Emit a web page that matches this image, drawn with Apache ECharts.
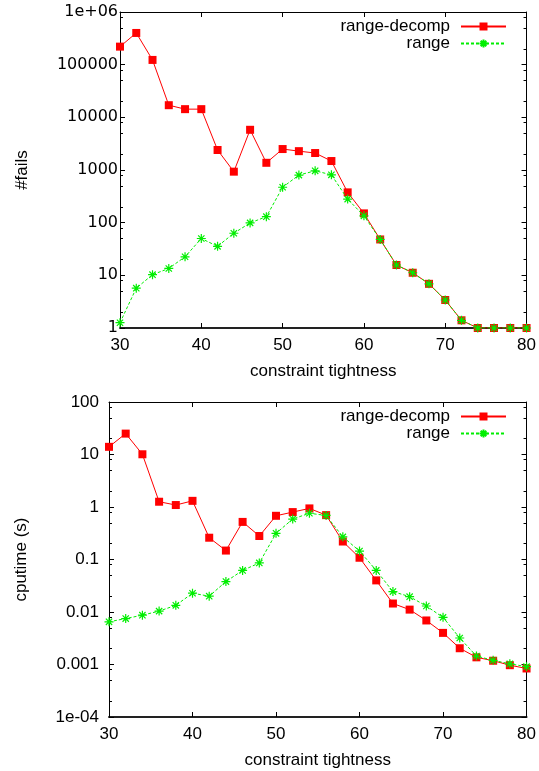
<!DOCTYPE html>
<html>
<head>
<meta charset="utf-8">
<script src="https://cdn.jsdelivr.net/npm/echarts@6/dist/echarts.min.js"></script>
<style>
  html, body { margin: 0; padding: 0; background: #fff; }
  #chart { width: 539px; height: 771px; }
</style>
</head>
<body>
<div id="chart"></div>
<script>
var xs = [30, 32, 34, 36, 38, 40, 42, 44, 46, 48, 50, 52, 54, 56, 58, 60, 62, 64, 66, 68, 70, 72, 74, 76, 78, 80];

var failsDecomp = [220000, 400000, 123000, 17000, 14300, 14300, 2400, 930, 5800, 1370, 2500, 2280, 2100, 1480, 376, 150, 48, 15.7, 11.2, 6.9, 3.4, 1.4, 1, 1, 1, 1];
var failsRange = [1.26, 5.7, 10.3, 13.5, 22.5, 50, 35.5, 63, 99, 130, 470, 800, 965, 810, 280, 135, 48, 15.7, 11.2, 6.9, 3.4, 1.4, 1, 1, 1, 1];

var timeDecomp = [14, 25, 10.1, 1.26, 1.09, 1.31, 0.26, 0.148, 0.52, 0.28, 0.68, 0.80, 0.94, 0.70, 0.22, 0.108, 0.040, 0.0145, 0.0111, 0.0069, 0.0040, 0.00204, 0.00137, 0.00118, 0.00097, 0.00084];
var timeRange = [0.0065, 0.0075, 0.0087, 0.0104, 0.0134, 0.0228, 0.020, 0.038, 0.062, 0.086, 0.315, 0.59, 0.76, 0.69, 0.27, 0.145, 0.062, 0.0245, 0.0196, 0.013, 0.0079, 0.0032, 0.00145, 0.0012, 0.00103, 0.00091];

var failTicks = [1, 10, 100, 1000, 10000, 100000, 1000000];
var failTickLabels = ['1', '10', '100', '1000', '10000', '100000', '1e+06'];
var timeTicks = [0.0001, 0.001, 0.01, 0.1, 1, 10, 100];
var timeTickLabels = ['1e-04', '0.001', '0.01', '0.1', '1', '10', '100'];
var minorSteps = [2, 5, 8];

var FONT = "'Liberation Sans', Arial, sans-serif";
var RED = '#ff0000';
var GREEN = '#00ee00';
var STAR = 'path://M0,5L10,5M5,0L5,10M1.5,1.5L8.5,8.5M8.5,1.5L1.5,8.5';

function minorOf(ticks) {
  var out = [];
  for (var i = 0; i < ticks.length - 1; i++) {
    minorSteps.forEach(function (m) { out.push(m * ticks[i]); });
  }
  return out;
}

function pairs(vals) {
  return xs.map(function (x, i) { return [x, vals[i]]; });
}

// x axes for one grid: bottom with labels, top only ticks
function xAxes(gi, name) {
  var base = {
    gridIndex: gi, type: 'value', min: 30, max: 80, interval: 10,
    splitLine: {show: false},
    axisTick: {inside: true, length: 5, lineStyle: {color: '#000'}}
  };
  return [
    Object.assign({}, base, {
      position: 'bottom',
      name: name, nameLocation: 'middle', nameGap: 35,
      nameTextStyle: {fontFamily: FONT, fontSize: 17, color: '#000'},
      axisLine: {lineStyle: {color: '#222', width: 2}},
      axisLabel: {margin: 9, fontFamily: FONT, fontSize: 17, color: '#000'}
    }),
    Object.assign({}, base, {
      position: 'top',
      axisLine: {lineStyle: {color: '#000', width: 1}},
      axisLabel: {show: false}
    })
  ];
}

// y axes for one grid: left/right majors and minors
function yAxes(gi, min, max, ticks, labels, offsetIdx, name, nameGap, labelStyle) {
  var minor = minorOf(ticks);
  var base = {gridIndex: gi, type: 'log', logBase: 10, min: min, max: max, splitLine: {show: false}};
  var fmt = function (v) { return labels[Math.round(Math.log10(v)) + offsetIdx]; };
  return [
    Object.assign({}, base, {
      position: 'left',
      name: name, nameLocation: 'middle', nameGap: nameGap,
      nameTextStyle: {fontFamily: FONT, fontSize: 17, color: '#000'},
      axisLine: {show: true, lineStyle: {color: '#000', width: 1}},
      axisTick: {inside: true, length: 5, customValues: ticks, lineStyle: {color: '#000'}},
      axisLabel: Object.assign({customValues: ticks, formatter: fmt, color: '#000'}, labelStyle)
    }),
    Object.assign({}, base, {
      position: 'left',
      axisLine: {show: false},
      axisTick: {inside: true, length: 3, customValues: minor, lineStyle: {color: '#000'}},
      axisLabel: {show: false}
    }),
    Object.assign({}, base, {
      position: 'right',
      axisLine: {show: true, lineStyle: {color: '#000', width: 1}},
      axisTick: {inside: true, length: 5, customValues: ticks, lineStyle: {color: '#000'}},
      axisLabel: {show: false}
    }),
    Object.assign({}, base, {
      position: 'right',
      axisLine: {show: false},
      axisTick: {inside: true, length: 3, customValues: minor, lineStyle: {color: '#000'}},
      axisLabel: {show: false}
    })
  ];
}

function decompSeries(xi, yi, vals) {
  return {
    name: 'range-decomp', type: 'line', xAxisIndex: xi, yAxisIndex: yi,
    data: pairs(vals),
    symbol: 'rect', symbolSize: 8,
    itemStyle: {color: RED},
    lineStyle: {color: RED, width: 1},
    z: 2
  };
}

function rangeSeries(xi, yi, vals) {
  return {
    name: 'range', type: 'line', xAxisIndex: xi, yAxisIndex: yi,
    data: pairs(vals),
    symbol: STAR, symbolSize: 9,
    itemStyle: {color: GREEN, borderColor: GREEN, borderWidth: 1.2},
    lineStyle: {color: GREEN, width: 1, type: [3, 2]},
    z: 3
  };
}

function legendAt(top, name) {
  return {
    top: top, right: 32, align: 'right', padding: 0,
    data: [name], itemWidth: 45, itemHeight: 10,
    selectedMode: false,
    textStyle: {fontFamily: FONT, fontSize: 17, color: '#000', padding: [0, 6, 0, 0]}
  };
}

var chart = echarts.init(document.getElementById('chart'), null, {renderer: 'canvas'});
chart.setOption({
  animation: false,
  backgroundColor: '#fff',
  grid: [
    {left: 120, top: 12, width: 407, height: 316},
    {left: 109, top: 402, width: 418, height: 315}
  ],
  legend: [
    legendAt(18, 'range-decomp'),
    legendAt(35, 'range'),
    legendAt(408, 'range-decomp'),
    legendAt(425, 'range')
  ],
  xAxis: xAxes(0, 'constraint tightness').concat(xAxes(1, 'constraint tightness')),
  yAxis: yAxes(0, 1, 1000000, failTicks, failTickLabels, 0, '#fails', 89,
      {margin: 2, fontFamily: "'DejaVu Sans', sans-serif", fontSize: 16})
    .concat(yAxes(1, 0.0001, 100, timeTicks, timeTickLabels, 4, 'cputime (s)', 79,
      {margin: 10, fontFamily: FONT, fontSize: 17})),
  series: [
    decompSeries(0, 0, failsDecomp),
    rangeSeries(0, 0, failsRange),
    decompSeries(2, 4, timeDecomp),
    rangeSeries(2, 4, timeRange)
  ]
});
</script>
</body>
</html>
